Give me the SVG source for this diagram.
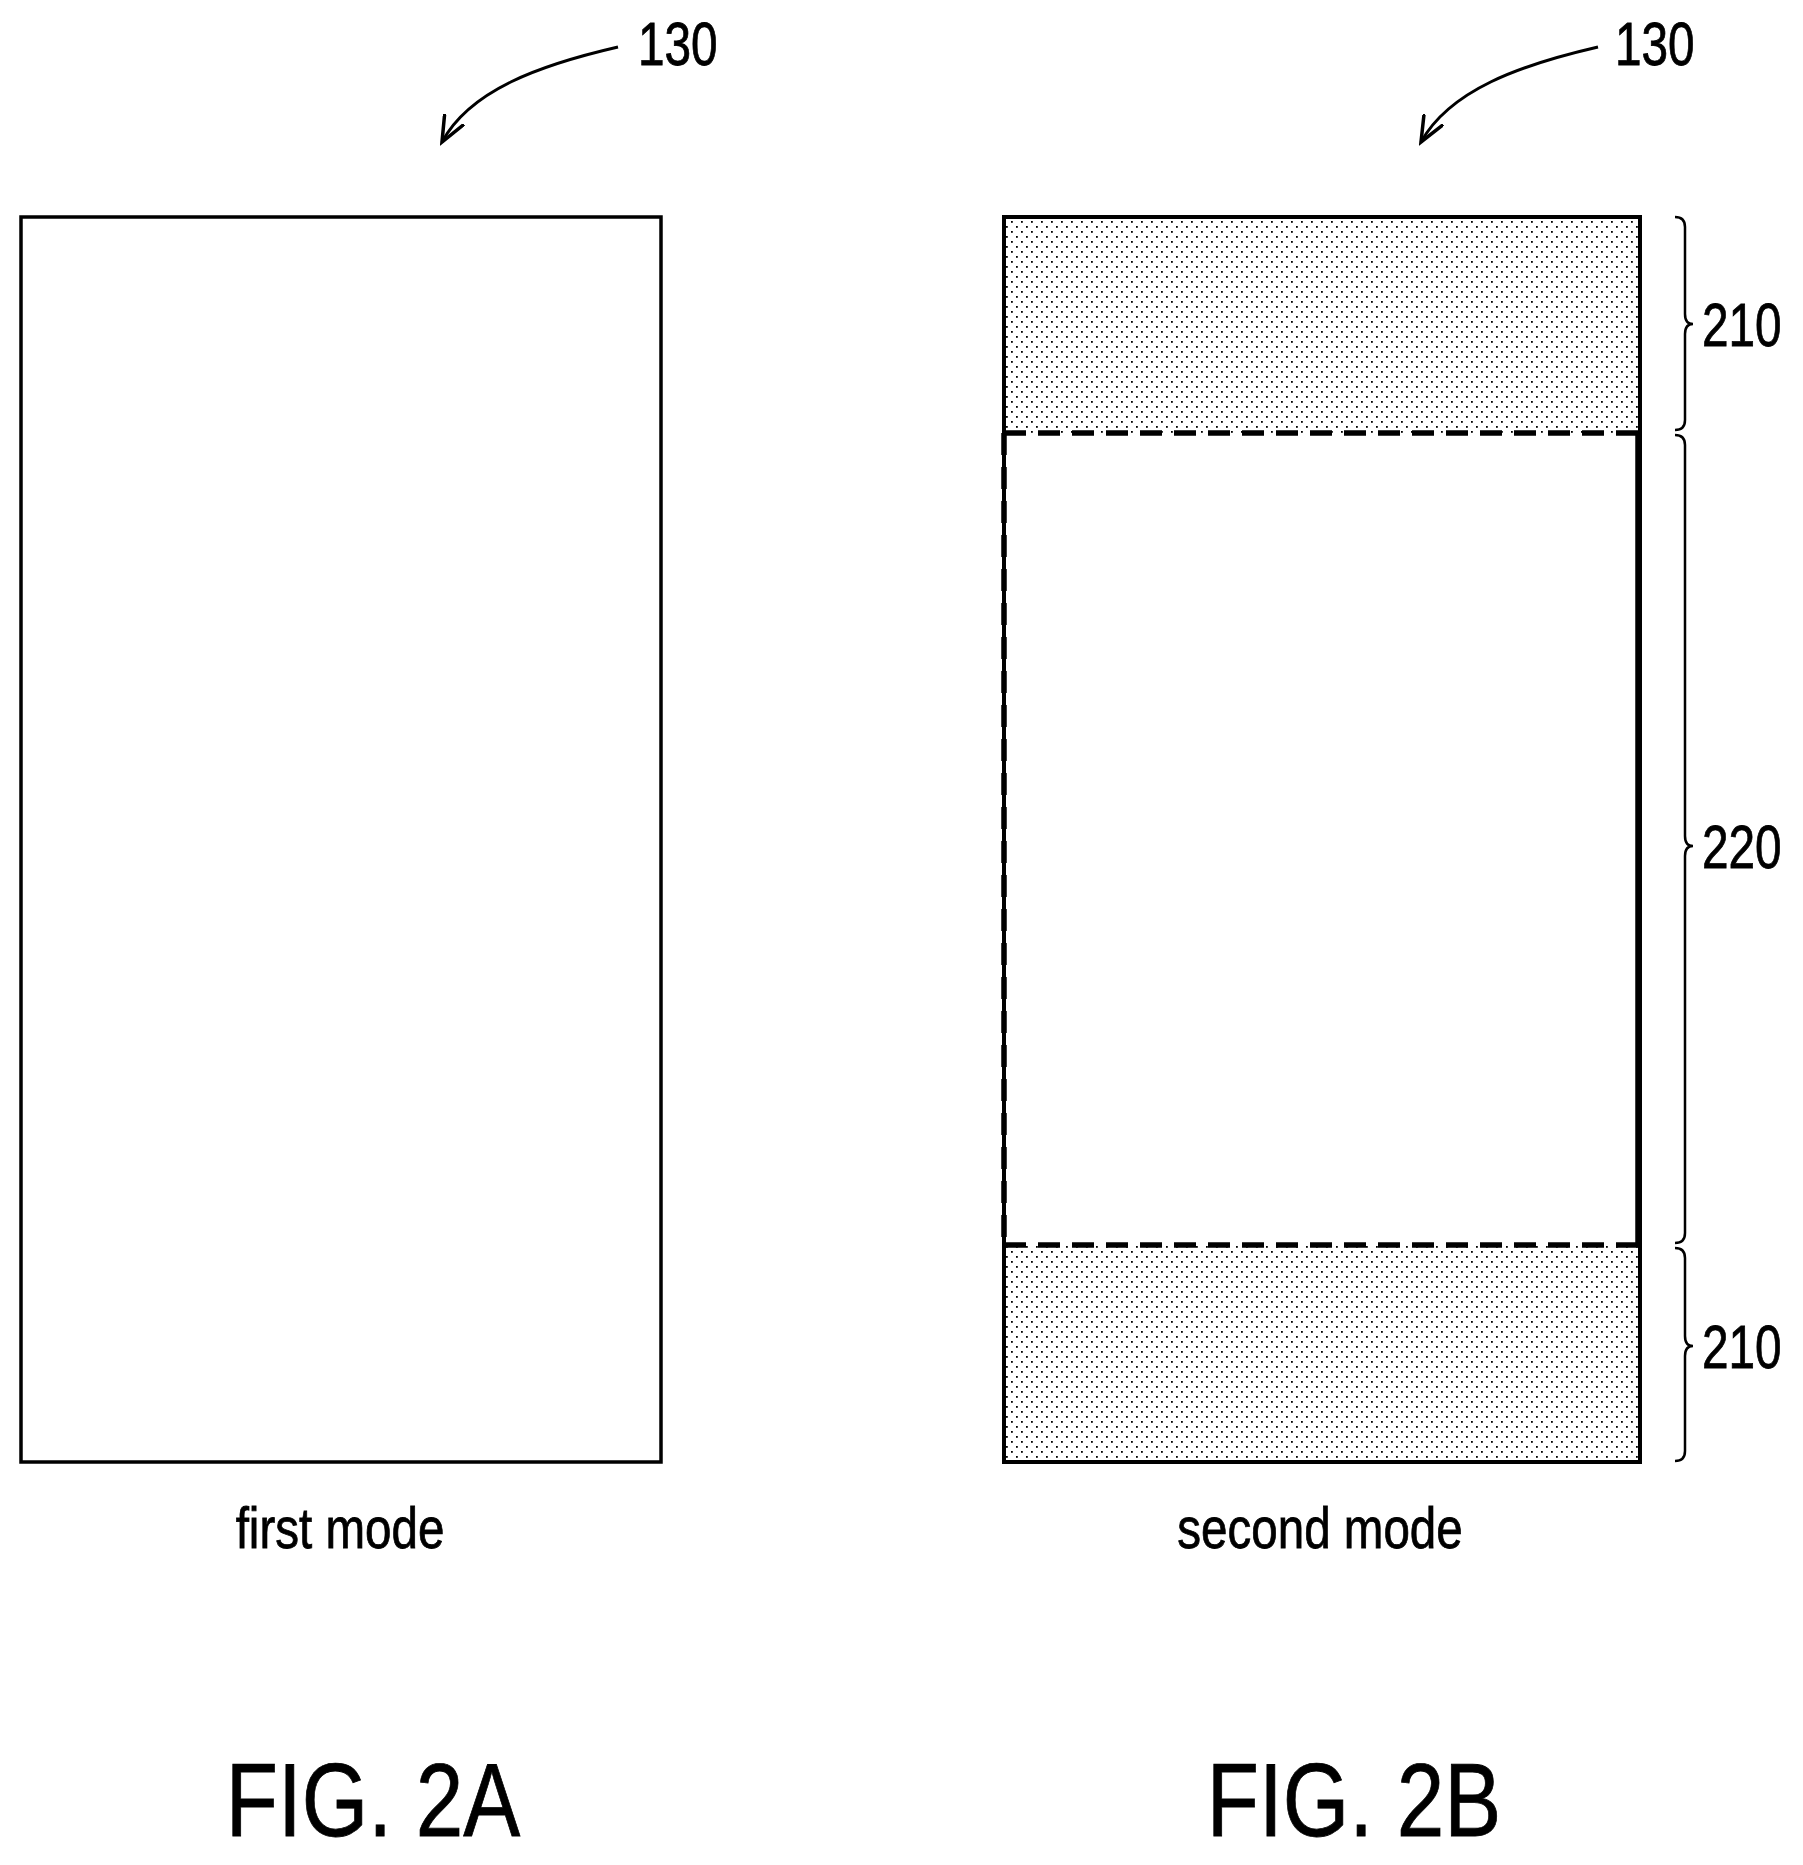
<svg xmlns="http://www.w3.org/2000/svg" width="1803" height="1865" viewBox="0 0 1803 1865">
<style>
.t{font-family:"Liberation Sans",Arial,sans-serif;fill:#000;stroke:#000;stroke-width:0.8}
.ln{fill:none;stroke:#000}
</style>
<defs>
<pattern id="dots" width="10" height="10" patternUnits="userSpaceOnUse">
<rect x="1" y="1" width="1.8" height="1.8" fill="#000"/>
<rect x="6" y="6" width="1.8" height="1.8" fill="#000"/>
</pattern>
<marker id="ah" markerWidth="30" markerHeight="24" refX="26" refY="12" orient="auto" markerUnits="userSpaceOnUse">
<path d="M0,1 L26,12 L0,23" fill="none" stroke="#000" stroke-width="3.5"/>
</marker>
</defs>
<rect width="1803" height="1865" fill="#fff"/>
<g id="connectors">
<path class="ln" stroke-width="3" d="M618,47 C540,65 470,90 442,142" marker-end="url(#ah)"/>
<path class="ln" stroke-width="3" d="M1598,47 C1520,65 1450,90 1421,142" marker-end="url(#ah)"/>
</g>
<g id="fig2a">
<rect x="21" y="217" width="640" height="1245" class="ln" stroke-width="3.5"/>
<text class="t" font-size="58" transform="translate(340,1548) scale(0.82,1)" text-anchor="middle">first mode</text>
<text class="t" font-size="103" transform="translate(373,1836) scale(0.83,1)" text-anchor="middle">FIG. 2A</text>
<text class="t" font-size="62" transform="translate(638,65) scale(0.77,1)">130</text>
</g>
<g id="fig2b">
<rect x="1004" y="217" width="636" height="216" fill="url(#dots)"/>
<rect x="1004" y="1245" width="636" height="217" fill="url(#dots)"/>
<rect x="1004" y="217" width="636" height="1245" class="ln" stroke-width="4"/>
<path class="ln" stroke-width="5.5" stroke-dasharray="22,12" d="M1004,433 H1640 M1004,1245 H1640 M1004,433 V1245"/>
<path class="ln" stroke-width="5.5" d="M1638,433 V1245"/>
<text class="t" font-size="58" transform="translate(1320,1548) scale(0.82,1)" text-anchor="middle">second mode</text>
<text class="t" font-size="103" transform="translate(1354,1836) scale(0.83,1)" text-anchor="middle">FIG. 2B</text>
<text class="t" font-size="62" transform="translate(1615,65) scale(0.77,1)">130</text>
</g>
<g id="braces" class="ln" stroke-width="2.5">
<path d="M1675,217 Q1685,217 1685,227 V314 Q1685,324 1693,324 Q1685,324 1685,334 V420 Q1685,430 1675,430"/>
<path d="M1675,435 Q1685,435 1685,445 V836 Q1685,846 1693,846 Q1685,846 1685,856 V1233 Q1685,1243 1675,1243"/>
<path d="M1675,1248 Q1685,1248 1685,1258 V1336 Q1685,1346 1693,1346 Q1685,1346 1685,1356 V1451 Q1685,1461 1675,1461"/>
</g>
<g id="labels">
<text class="t" font-size="62" transform="translate(1702,346) scale(0.77,1)">210</text>
<text class="t" font-size="62" transform="translate(1702,868) scale(0.77,1)">220</text>
<text class="t" font-size="62" transform="translate(1702,1368) scale(0.77,1)">210</text>
</g>
</svg>
